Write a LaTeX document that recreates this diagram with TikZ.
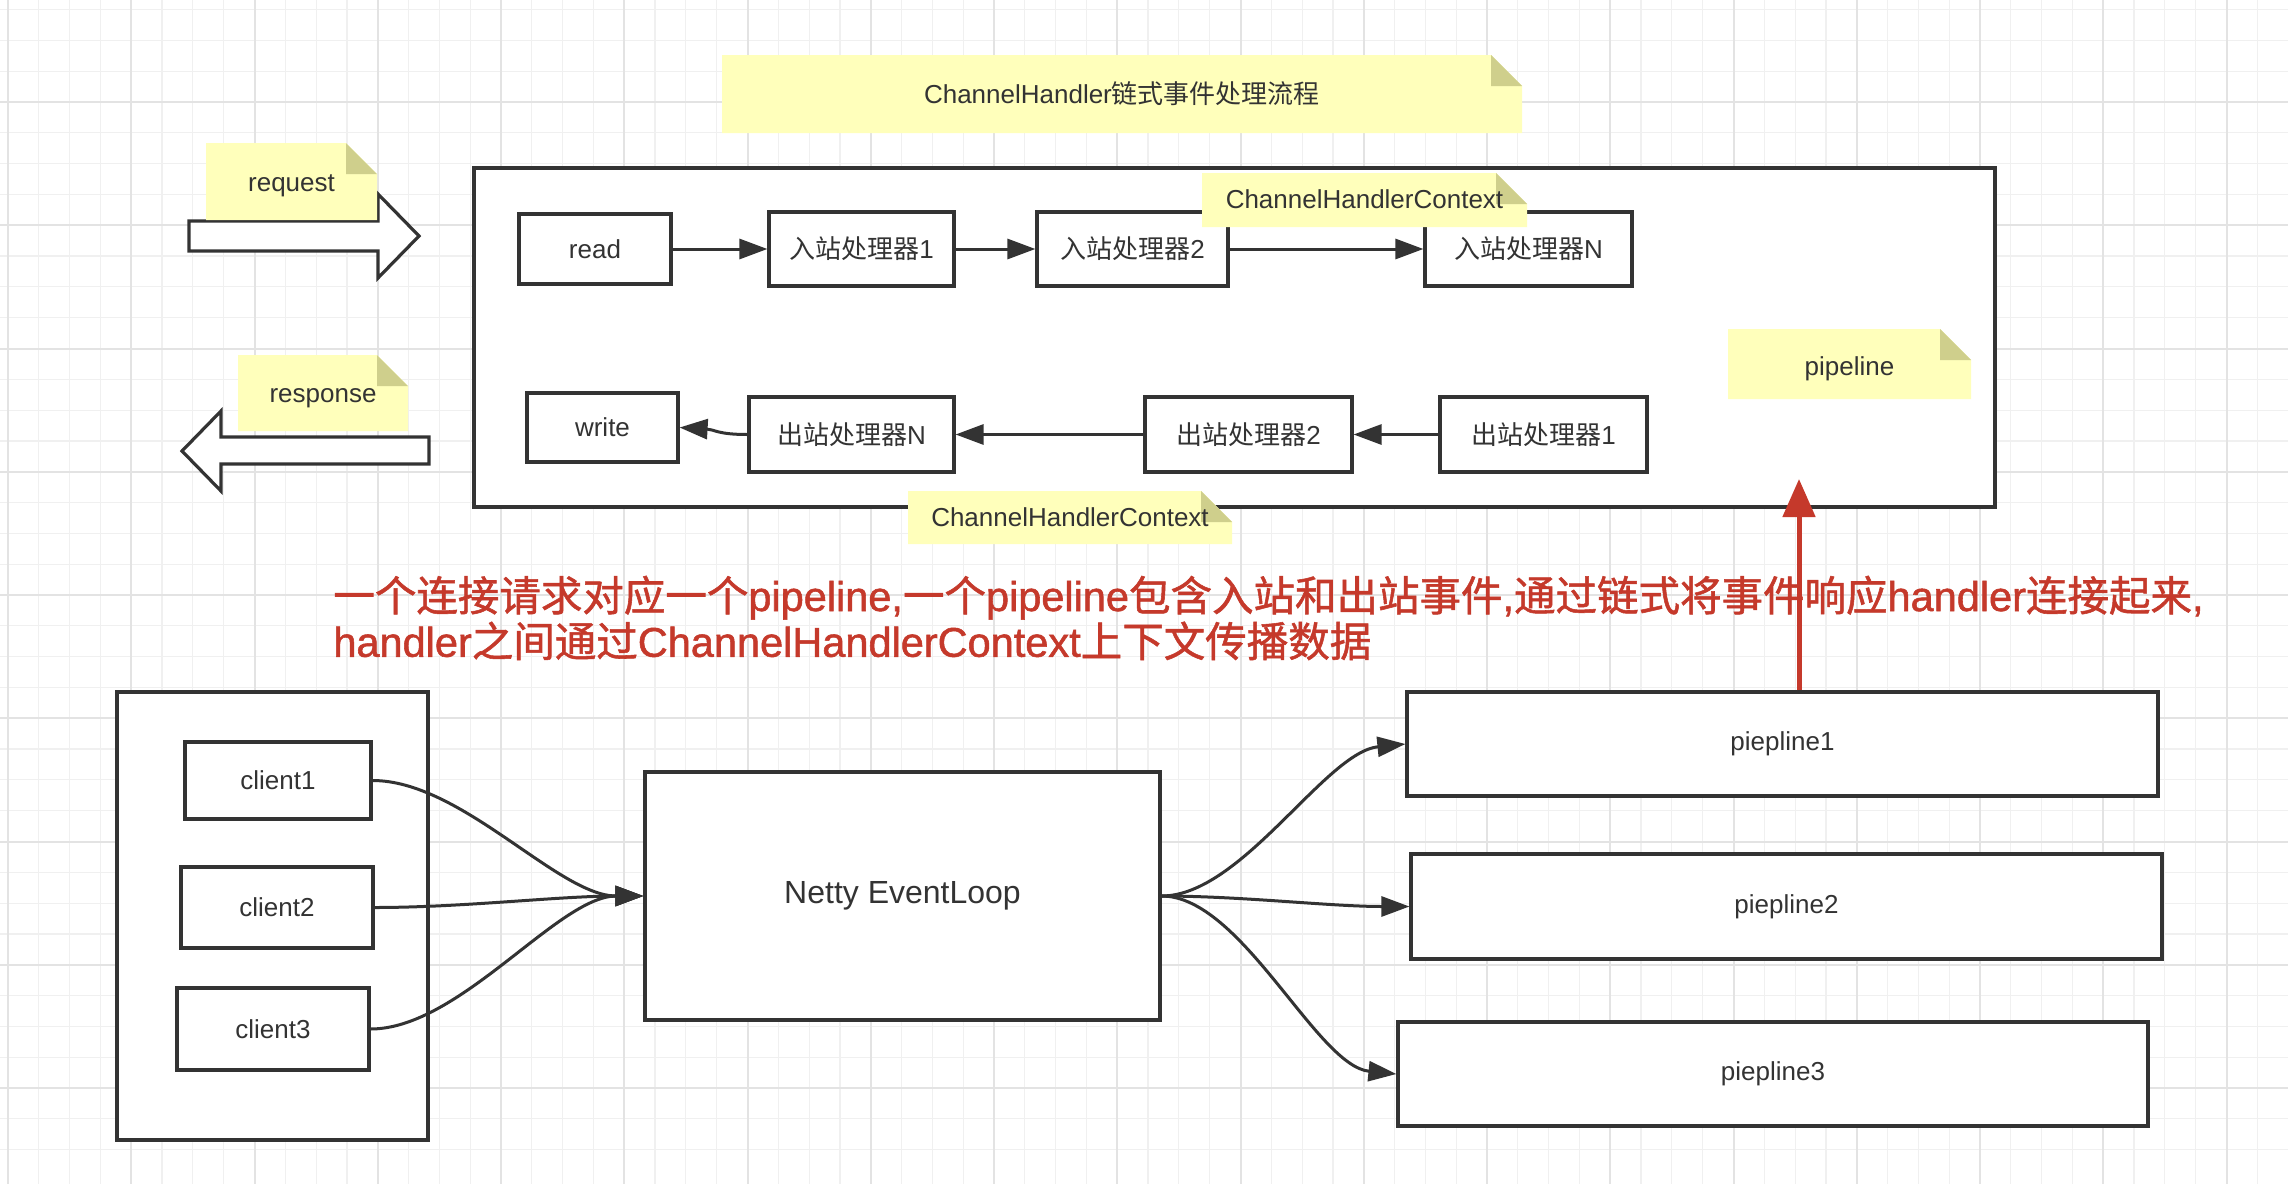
\documentclass[tikz,border=0pt]{standalone}
\usepackage{fontspec}
\setmainfont{Liberation Sans}
\newfontfamily\cjkfont{Noto Sans CJK SC}
\newfontfamily\redlat{Liberation Sans}[FakeBold=1.3]
\newfontfamily\redcjk{Noto Sans CJK SC}[FakeBold=1.3]
\newcommand{\zh}[1]{{\cjkfont #1}}
\newcommand{\rz}[1]{{\redcjk #1}}
\usetikzlibrary{arrows.meta}
\definecolor{ink}{HTML}{333333}
\definecolor{notefill}{HTML}{FFFFBB}
\definecolor{foldfill}{HTML}{CFCF8C}
\definecolor{redink}{HTML}{C5392B}
\definecolor{gridminor}{HTML}{F0F0F0}
\definecolor{gridmajor}{HTML}{E3E3E3}
\newcommand{\stickynote}[7]{%
  \fill[notefill] (#2,#3) -- ({#4-31},#3) -- (#4,{#3+31}) -- (#4,#5) -- (#2,#5) -- cycle;
  \fill[foldfill] ({#4-31},#3) -- ({#4-31},{#3+31}) -- (#4,{#3+31}) -- cycle;
  \node[notetext] (#1) at ({(#2+#4)/2},{(#3+#5)/2+#7}) {#6};
}
\begin{document}
\begin{tikzpicture}[x=0.5pt,y=-0.5pt,
  box/.style={draw=ink, line width=1.6pt, fill=white, text=ink,
    font=\fontsize{13}{15}\selectfont, inner sep=0pt},
  sz/.style 2 args={minimum width={#1*0.5pt}, minimum height={#2*0.5pt}},
  notetext/.style={text=ink, font=\fontsize{13}{15}\selectfont, inner sep=0pt},
  conn/.style={draw=ink, line width=1.5pt, -{Triangle[length=14pt,width=10pt]}},
  blockarrow/.style={draw=ink, line width=1.6pt, fill=white, line join=miter},
  minorline/.style={draw=gridminor, line width=0.6pt},
  majorline/.style={draw=gridmajor, line width=1pt}]
\useasboundingbox (0,0) rectangle (2288,1184);
\fill[white] (0,0) rectangle (2288,1184);
% grid
\foreach \i in {0,...,73} \draw[minorline] ({8+\i*30.8125},0) -- ({8+\i*30.8125},1184);
\foreach \j in {0,...,37} \draw[minorline] (0,{9.5625+\j*30.8125}) -- (2288,{9.5625+\j*30.8125});
\foreach \i in {0,...,18} \draw[majorline] ({8+\i*123.25},0) -- ({8+\i*123.25},1184);
\foreach \j in {0,...,8} \draw[majorline] (0,{102+\j*123.25}) -- (2288,{102+\j*123.25});

% containers
\node[box, sz={1521}{339}] (pipebox) at (1234.5,337.5) {};
\node[box, sz={311}{448}] (clients) at (272.5,916) {};

% pipeline handlers
\node[box, sz={152}{70}] (read) at (595,249) {read};
\node[box, sz={185}{74}] (in1) at (861.5,249) {\zh{入站处理器}1};
\node[box, sz={191}{74}] (in2) at (1132.5,249) {\zh{入站处理器}2};
\node[box, sz={207}{74}] (inN) at (1528.5,249) {\zh{入站处理器}N};
\node[box, sz={151}{69}] (write) at (602.5,427.5) {write};
\node[box, sz={205}{75}] (outN) at (851.5,434.5) {\zh{出站处理器}N};
\node[box, sz={207}{75}] (out2) at (1248.5,434.5) {\zh{出站处理器}2};
\node[box, sz={207}{75}] (out1) at (1543.5,434.5) {\zh{出站处理器}1};

% bottom part
\node[box, sz={186}{77}] (c1) at (278,780.5) {client1};
\node[box, sz={192}{81}] (c2) at (277,907.5) {client2};
\node[box, sz={192}{82}] (c3) at (273,1029) {client3};
\node[box, sz={515}{248}, font=\fontsize{16}{18}\selectfont] (netty) at (902.5,896) {Netty EventLoop};
\node[box, sz={751}{104}] (p1) at (1782.5,744) {piepline1};
\node[box, sz={751}{105}] (p2) at (1786.5,906.5) {piepline2};
\node[box, sz={750}{104}] (p3) at (1773,1074) {piepline3};

% connectors
\draw[conn] (read) -- (in1);
\draw[conn] (in1) -- (in2);
\draw[conn] (in2) -- (inN);
\draw[conn] (out1) -- (out2);
\draw[conn] (out2) -- (outN);
\draw[conn] (outN.west) .. controls +(-30,0) and +(35,2) .. (write.east);
\draw[conn] (c1.east) .. controls +(89,0) and +(-85,0) .. (netty.west);
\draw[conn] (c2.east) .. controls +(89,0) and +(-85,0) .. (netty.west);
\draw[conn] (c3.east) .. controls +(89,0) and +(-85,0) .. (netty.west);
\draw[conn] (netty.east) .. controls +(80,0) and +(-80,8) .. (p1.west);
\draw[conn] (netty.east) .. controls +(80,0) and +(-80,0) .. (p2.west);
\draw[conn] (netty.east) .. controls +(80,0) and +(-80,-8) .. (p3.west);

% block arrows
\draw[blockarrow] (189,221) -- (378,221) -- (378,194) -- (419,236) -- (378,278) -- (378,251) -- (189,251) -- cycle;
\draw[blockarrow] (429,437) -- (221,437) -- (221,411) -- (182,451) -- (221,491) -- (221,464) -- (429,464) -- cycle;

% notes
\stickynote{title}{722}{55}{1522}{133}{ChannelHandler\zh{链式事件处理流程}}{0}
\stickynote{request}{206}{143}{377}{220}{request}{4}
\stickynote{response}{238}{355}{408}{431}{response}{5}
\stickynote{ctxtop}{1202}{173}{1527}{227}{ChannelHandlerContext}{-1}
\stickynote{ctxbot}{908}{491}{1232}{544}{ChannelHandlerContext}{0}
\stickynote{pipelabel}{1728}{329}{1971}{399}{pipeline}{5}

% red explanation
\node[anchor=west, text=redink, font=\redlat\fontsize{20.75}{21}\selectfont, align=left, inner sep=0pt] (caption) at (333,618)
 {\rz{一个连接请求对应一个}pipeline,\rz{一个}pipeline\rz{包含入站和出站事件},\rz{通过链式将事件响应}handler\rz{连接起来},\\handler\rz{之间通过}ChannelHandlerContext\rz{上下文传播数据}};
\coordinate (redtip) at (1799,479);
\draw[redink, line width=2.5pt, -{Triangle[length=19pt,width=16pt]}] (p1.north -| redtip) -- (redtip);
\end{tikzpicture}
\end{document}
